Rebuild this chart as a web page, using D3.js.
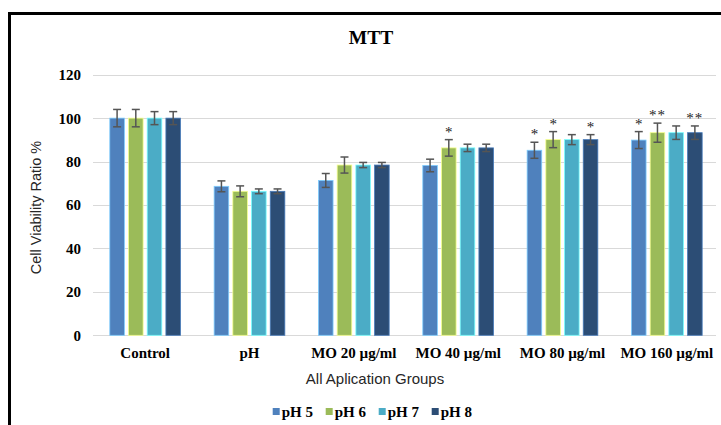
<!DOCTYPE html>
<html>
<head>
<meta charset="utf-8">
<script src="https://cdn.jsdelivr.net/npm/d3@7"></script>
<style>
  html, body { margin: 0; padding: 0; background: #fff; }
  svg { display: block; }
  .serif { font-family: "Liberation Serif", "Times New Roman", "DejaVu Serif", serif; font-weight: bold; }
  .sans { font-family: "Liberation Sans", Arial, sans-serif; }
</style>
</head>
<body>
<svg id="chart" width="721" height="425"></svg>
<script>
const title = "MTT";
const categories = ["Control", "pH", "MO 20 µg/ml", "MO 40 µg/ml", "MO 80 µg/ml", "MO 160 µg/ml"];
const seriesNames = ["pH 5", "pH 6", "pH 7", "pH 8"];
const seriesColors = ["#4F81BD", "#9BBB59", "#4BACC6", "#2C4D75"];
const pH5 = [100, 68.6, 71.3, 78.2, 85.2, 89.9];
const pH6 = [100, 66.3, 78.4, 86.3, 90.1, 93.3];
const pH7 = [100, 66.3, 78.4, 86.3, 90.1, 93.3];
const pH8 = [100, 66.3, 78.4, 86.3, 90.1, 93.3];
const pH5err = [4, 2.5, 3.2, 2.9, 3.7, 3.9];
const pH6err = [4, 2.5, 3.7, 3.8, 3.7, 4.4];
const pH7err = [3, 1.1, 1.2, 1.7, 2.3, 3.1];
const pH8err = [3, 1.1, 1.2, 1.7, 2.3, 3.1];
const pH5sig = ["", "", "", "", "*", "*"];
const pH6sig = ["", "", "", "*", "*", "**"];
const pH7sig = ["", "", "", "", "", ""];
const pH8sig = ["", "", "", "", "*", "**"];
const yTicks = [0, 20, 40, 60, 80, 100, 120];
const yTitle = "Cell Viability Ratio %";
const xTitle = "All Aplication Groups";

const values = [pH5, pH6, pH7, pH8];
const errs = [pH5err, pH6err, pH7err, pH8err];
const sigs = [pH5sig, pH6sig, pH7sig, pH8sig];

const svg = d3.select("#chart");

// frame
svg.append("rect").attr("x", 9.5).attr("y", 13.5).attr("width", 800).attr("height", 500)
  .attr("fill", "none").attr("stroke", "#000").attr("stroke-width", 3);

const x0 = d3.scaleBand().domain(categories).range([93, 719]).padding(0);
const x1 = d3.scaleBand().domain(seriesNames).range([16.8, 87.5]).paddingInner(0.22).paddingOuter(0);
const y = d3.scaleLinear().domain([0, 120]).range([335.3, 74.7]);

// gridlines
svg.append("g").selectAll("line").data(yTicks).join("line")
  .attr("x1", 93).attr("x2", 716)
  .attr("y1", d => Math.round(y(d)) + 0.5).attr("y2", d => Math.round(y(d)) + 0.5)
  .attr("stroke", "#d9d9d9").attr("stroke-width", 1);

// y axis labels
const yAxis = d3.axisLeft(y).tickValues(yTicks).tickSize(0).tickPadding(0);
const gy = svg.append("g").attr("transform", "translate(81,0)").call(yAxis)
  .attr("font-family", null).attr("font-size", null);
gy.select(".domain").remove();
gy.selectAll("text").attr("class", "serif").style("font-size", "15px")
  .attr("fill", "#000").attr("dy", "0.33em");

// bars
const groups = svg.append("g").selectAll("g").data(categories).join("g")
  .attr("transform", d => `translate(${x0(d)},0)`);

groups.each(function(cat, ci) {
  const g = d3.select(this);
  seriesNames.forEach((s, si) => {
    const v = values[si][ci], e = errs[si][ci];
    const bx = x1(s), bw = x1.bandwidth();
    g.append("rect")
      .attr("x", bx).attr("y", y(v)).attr("width", bw).attr("height", y(0) - y(v))
      .attr("fill", seriesColors[si])
      .attr("stroke", d3.color(seriesColors[si]).brighter(1.3)).attr("stroke-width", 0.8);
    const cx = bx + bw / 2;
    const eg = g.append("g").attr("stroke", "#555").attr("stroke-width", 1.5);
    eg.append("line").attr("x1", cx).attr("x2", cx).attr("y1", y(v + e)).attr("y2", y(v - e));
    eg.append("line").attr("x1", cx - 4).attr("x2", cx + 4).attr("y1", y(v + e)).attr("y2", y(v + e));
    eg.append("line").attr("x1", cx - 4).attr("x2", cx + 4).attr("y1", y(v - e)).attr("y2", y(v - e));
    const sg = sigs[si][ci];
    if (sg) {
      g.append("text").attr("x", cx).attr("y", y(v + e) - 3)
        .attr("text-anchor", "middle")
        .style("font-family", "\"Liberation Serif\", \"Times New Roman\", serif")
        .style("font-size", "15px")
        .style("letter-spacing", sg.length > 1 ? "1px" : "0px")
        .attr("fill", "#222").text(sg);
    }
  });
});

// x axis labels
const xAxis = d3.axisBottom(x0).tickSize(0).tickPadding(0);
const gx = svg.append("g").attr("transform", "translate(0,358)").call(xAxis)
  .attr("font-family", null).attr("font-size", null);
gx.select(".domain").remove();
gx.selectAll("text").attr("class", "serif").style("font-size", "15px")
  .attr("fill", "#000").attr("dy", 0);

// title
svg.append("text").attr("x", 371).attr("y", 43.5).attr("text-anchor", "middle")
  .attr("class", "serif").style("font-size", "19.5px")
  .attr("fill", "#000").text(title);

// axis titles
svg.append("text").attr("x", 375).attr("y", 384).attr("text-anchor", "middle")
  .attr("class", "sans").style("font-size", "15px").attr("fill", "#262626").text(xTitle);
svg.append("text").attr("transform", "translate(41,207.5) rotate(-90)").attr("text-anchor", "middle")
  .attr("class", "sans").style("font-size", "14.5px").attr("fill", "#262626").text(yTitle);

// legend
const lg = svg.append("g").selectAll("g").data(seriesNames).join("g")
  .attr("transform", (d, i) => `translate(${272.7 + i * 53},0)`);
lg.append("rect").attr("x", 0).attr("y", 408).attr("width", 7).attr("height", 7)
  .attr("fill", (d, i) => seriesColors[i]);
lg.append("text").attr("x", 9).attr("y", 416.5)
  .attr("class", "serif").style("font-size", "15px")
  .attr("fill", "#000").text(d => d);
</script>
</body>
</html>
